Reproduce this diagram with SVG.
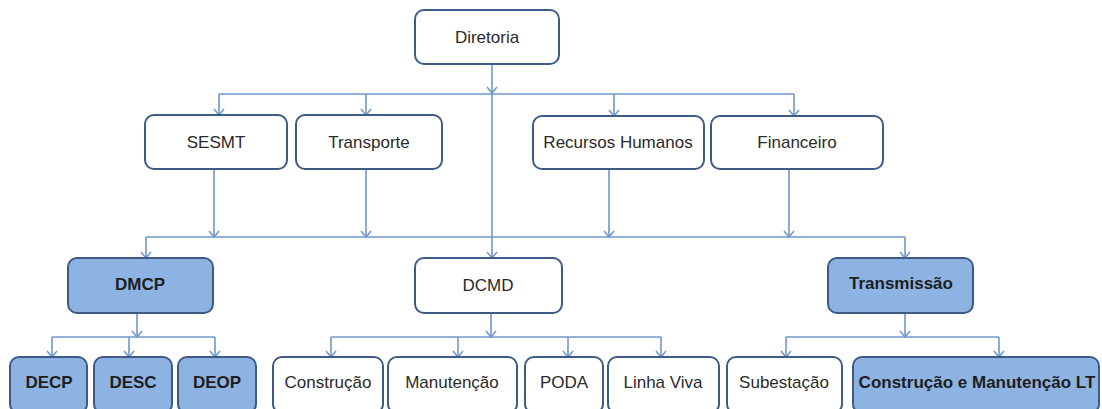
<svg xmlns="http://www.w3.org/2000/svg" width="1102" height="409" viewBox="0 0 1102 409">
<defs>
<marker id="arr" markerUnits="userSpaceOnUse" markerWidth="14" markerHeight="14" viewBox="-7 -7 14 14" refX="0" refY="0" orient="auto" overflow="visible">
<path d="M-6,-5 L0,0 L-6,5" fill="none" stroke="#6f97cc" stroke-width="1.5"/>
</marker>
<style>
.n{fill:#ffffff;stroke:#3d5b86;stroke-width:2}
.b{fill:#8db3e2;stroke:#3d5b86;stroke-width:2}
.t{font-family:"Liberation Sans",Arial,sans-serif;font-size:17px;fill:#2a2a2a;text-anchor:middle}
.tb{font-family:"Liberation Sans",Arial,sans-serif;font-size:17px;font-weight:bold;fill:#1e1e1e;text-anchor:middle}
.c{fill:none;stroke:#6f97cc;stroke-width:1.6}
</style>
</defs>
<rect width="1102" height="409" fill="#ffffff"/>
<g id="connectors">
<path class="c" d="M492 64 V93" marker-end="url(#arr)"/>
<path class="c" d="M492 93 V258" marker-end="url(#arr)"/>
<path class="c" d="M219 94 H794"/>
<path class="c" d="M219 94 V115" marker-end="url(#arr)"/>
<path class="c" d="M366 94 V115" marker-end="url(#arr)"/>
<path class="c" d="M614 94 V116" marker-end="url(#arr)"/>
<path class="c" d="M794 94 V116" marker-end="url(#arr)"/>
<path class="c" d="M214 169 V237" marker-end="url(#arr)"/>
<path class="c" d="M366 169 V237" marker-end="url(#arr)"/>
<path class="c" d="M609 169 V237" marker-end="url(#arr)"/>
<path class="c" d="M789 169 V237" marker-end="url(#arr)"/>
<path class="c" d="M146 237 H905"/>
<path class="c" d="M146 237 V258" marker-end="url(#arr)"/>
<path class="c" d="M905 237 V258" marker-end="url(#arr)"/>
<path class="c" d="M137 313 V337" marker-end="url(#arr)"/>
<path class="c" d="M52 337 H215"/>
<path class="c" d="M52 337 V357" marker-end="url(#arr)"/>
<path class="c" d="M129 337 V357" marker-end="url(#arr)"/>
<path class="c" d="M215 337 V357" marker-end="url(#arr)"/>
<path class="c" d="M491 313 V337" marker-end="url(#arr)"/>
<path class="c" d="M331 337 H661"/>
<path class="c" d="M331 337 V357" marker-end="url(#arr)"/>
<path class="c" d="M458 337 V357" marker-end="url(#arr)"/>
<path class="c" d="M568 337 V357" marker-end="url(#arr)"/>
<path class="c" d="M661 337 V357" marker-end="url(#arr)"/>
<path class="c" d="M905 313 V337" marker-end="url(#arr)"/>
<path class="c" d="M786 337 H999"/>
<path class="c" d="M786 337 V357" marker-end="url(#arr)"/>
<path class="c" d="M999 337 V357" marker-end="url(#arr)"/>
</g>
<g id="diretoria"><rect class="n" x="415" y="10" width="144" height="54" rx="9"/><text class="t" x="487" y="43">Diretoria</text></g>
<g id="sesmt"><rect class="n" x="145" y="115" width="142" height="54" rx="9"/><text class="t" x="216" y="148">SESMT</text></g>
<g id="transporte"><rect class="n" x="296" y="115" width="146" height="54" rx="9"/><text class="t" x="369" y="148">Transporte</text></g>
<g id="rh"><rect class="n" x="533" y="116" width="171" height="53" rx="9"/><text class="t" x="618" y="148">Recursos Humanos</text></g>
<g id="financeiro"><rect class="n" x="711" y="116" width="172" height="53" rx="9"/><text class="t" x="797" y="148">Financeiro</text></g>
<g id="dmcp"><rect class="b" x="68" y="258" width="145" height="55" rx="9"/><text class="tb" x="140" y="290">DMCP</text></g>
<g id="dcmd"><rect class="n" x="415" y="258" width="147" height="55" rx="9"/><text class="t" x="488" y="291">DCMD</text></g>
<g id="transmissao"><rect class="b" x="828" y="258" width="145" height="55" rx="9"/><text class="tb" x="901" y="289">Transmissão</text></g>
<g id="decp"><rect class="b" x="10" y="357" width="77" height="56" rx="9"/><text class="tb" x="49" y="388">DECP</text></g>
<g id="desc"><rect class="b" x="94" y="357" width="78" height="56" rx="9"/><text class="tb" x="133" y="388">DESC</text></g>
<g id="deop"><rect class="b" x="178" y="357" width="78" height="56" rx="9"/><text class="tb" x="217" y="388">DEOP</text></g>
<g id="construcao"><rect class="n" x="273" y="357" width="110" height="56" rx="9"/><text class="t" x="328" y="388">Construção</text></g>
<g id="manutencao"><rect class="n" x="388" y="357" width="129" height="56" rx="9"/><text class="t" x="452" y="388">Manutenção</text></g>
<g id="poda"><rect class="n" x="525" y="357" width="78" height="56" rx="9"/><text class="t" x="564" y="388">PODA</text></g>
<g id="linhaviva"><rect class="n" x="608" y="357" width="111" height="56" rx="9"/><text class="t" x="663" y="388">Linha Viva</text></g>
<g id="subestacao"><rect class="n" x="727" y="357" width="115" height="56" rx="9"/><text class="t" x="784" y="388">Subestação</text></g>
<g id="cmlt"><rect class="b" x="853" y="357" width="246" height="56" rx="9"/><text class="tb" x="977" y="388">Construção e Manutenção LT</text></g>
</svg>
